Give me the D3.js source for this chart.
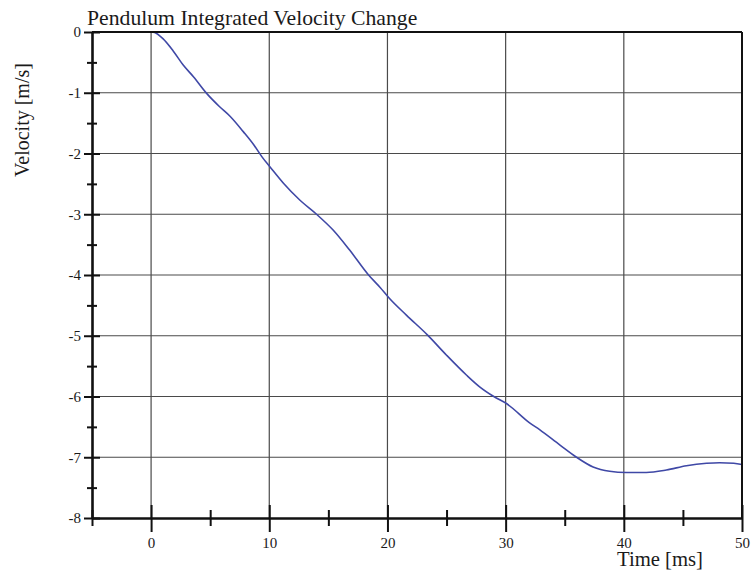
<!DOCTYPE html>
<html>
<head>
<meta charset="utf-8">
<script src="https://cdn.jsdelivr.net/npm/d3@7"></script>
<style>
  html, body { margin: 0; padding: 0; background: #fff; }
  svg { display: block; font-family: "Liberation Serif", "Times New Roman", serif; }
</style>
</head>
<body>
<svg id="chart" width="754" height="573"></svg>
<script>
// Integrated pendulum velocity over time
const timeMs = [0, 0.3, 1, 1.9, 2.7, 3.6, 4.7, 5.8, 6.7, 7.8, 8.7, 9.4, 10.1, 11.2, 12.6, 14.0,
  15.4, 16.8, 18.4, 19.4, 20.1, 21.6, 23.4, 25.0, 26.7, 27.8, 29.0, 30.1, 32.0, 32.9, 34.6,
  36.0, 37.4, 38.8, 40.2, 41.9, 43.6, 45.3, 47.0, 48.1, 49.3, 50];
const velocity = [0, -0.01, -0.11, -0.32, -0.54, -0.74, -1.01, -1.23, -1.39, -1.64, -1.86, -2.06,
  -2.23, -2.49, -2.77, -3.0, -3.26, -3.59, -4.0, -4.21, -4.37, -4.66, -4.99, -5.32, -5.65, -5.84,
  -6.0, -6.12, -6.43, -6.55, -6.8, -7.0, -7.16, -7.23, -7.25, -7.25, -7.21, -7.14, -7.1, -7.09,
  -7.1, -7.12];

const xMajorTicks = [0, 10, 20, 30, 40, 50];
const xMinorTicks = [-5, 5, 15, 25, 35, 45];
const yMajorTicks = [0, -1, -2, -3, -4, -5, -6, -7, -8];
const yMinorTicks = [-0.5, -1.5, -2.5, -3.5, -4.5, -5.5, -6.5, -7.5];
const xGridValues = [0, 10, 20, 30, 40];
const yGridValues = [-1, -2, -3, -4, -5, -6, -7];

const titleText = "Pendulum Integrated Velocity Change";
const xLabel = "Time [ms]";
const yLabel = "Velocity [m/s]";

const svg = d3.select("#chart");
const x = d3.scaleLinear().domain([-5, 50]).range([92, 742]);
const y = d3.scaleLinear().domain([-8, 0]).range([518, 32]);

// plain hyphen-minus for negative tick labels
const fmt = d => String(d);

// grid
const grid = svg.append("g").attr("stroke", "#4a4a4a").attr("stroke-width", 1.2);
grid.selectAll("line.v").data(xGridValues).join("line")
  .attr("class", "v")
  .attr("x1", d => x(d)).attr("x2", d => x(d))
  .attr("y1", y(0)).attr("y2", y(-8));
grid.selectAll("line.h").data(yGridValues).join("line")
  .attr("class", "h")
  .attr("x1", x(-5)).attr("x2", x(50))
  .attr("y1", d => y(d)).attr("y2", d => y(d));

// velocity curve
const line = d3.line().x((d, i) => x(timeMs[i])).y(d => y(d)).curve(d3.curveMonotoneX);
svg.append("path")
  .datum(velocity)
  .attr("d", line)
  .attr("fill", "none")
  .attr("stroke", "#3f48a6")
  .attr("stroke-width", 1.6);

// frame: top and right edges
svg.append("line").attr("x1", x(-5)).attr("x2", x(50)).attr("y1", y(0)).attr("y2", y(0))
  .attr("stroke", "#111").attr("stroke-width", 2.2);
svg.append("line").attr("x1", x(50)).attr("x2", x(50)).attr("y1", y(0)).attr("y2", y(-8))
  .attr("stroke", "#111").attr("stroke-width", 2);

function styleAxis(g) {
  g.select(".domain").attr("stroke", "#111").attr("stroke-width", 2.6);
  g.selectAll(".tick line").attr("stroke", "#111").attr("stroke-width", 2);
  g.selectAll(".tick text").attr("fill", "#1a1a1a")
    .style("font-family", '"Liberation Serif", "Times New Roman", serif')
    .style("font-size", "15px");
}

// y axis, major ticks crossing the axis line
const yAxisG = svg.append("g").attr("transform", `translate(${x(-5)},0)`)
  .call(d3.axisLeft(y).tickValues(yMajorTicks).tickFormat(fmt).tickSize(8).tickSizeOuter(0).tickPadding(3));
styleAxis(yAxisG);
yAxisG.selectAll(".tick line").attr("x1", -8).attr("x2", 8);
yAxisG.selectAll(".tick text").attr("x", -11);

const yMinorG = svg.append("g").attr("transform", `translate(${x(-5)},0)`)
  .call(d3.axisLeft(y).tickValues(yMinorTicks).tickFormat("").tickSize(5).tickSizeOuter(0));
yMinorG.select(".domain").remove();
yMinorG.selectAll(".tick line").attr("x1", -5).attr("x2", 5).attr("stroke", "#111").attr("stroke-width", 2);

// x axis
const xAxisG = svg.append("g").attr("transform", `translate(0,${y(-8)})`)
  .call(d3.axisBottom(x).tickValues(xMajorTicks).tickFormat(fmt).tickSize(14).tickSizeOuter(0));
styleAxis(xAxisG);
xAxisG.selectAll(".tick line").attr("y1", -13).attr("y2", 14);
xAxisG.selectAll(".tick text").attr("y", 19);

const xMinorG = svg.append("g").attr("transform", `translate(0,${y(-8)})`)
  .call(d3.axisBottom(x).tickValues(xMinorTicks).tickFormat("").tickSize(8).tickSizeOuter(0));
xMinorG.select(".domain").remove();
xMinorG.selectAll(".tick line").attr("y1", -8).attr("y2", 8).attr("stroke", "#111").attr("stroke-width", 2);

// labels
svg.append("text").attr("x", 87).attr("y", 25)
  .style("font-size", "21.7px").attr("fill", "#1a1a1a").text(titleText);
svg.append("text").attr("x", 660).attr("y", 566).attr("text-anchor", "middle")
  .style("font-size", "20.7px").attr("fill", "#1a1a1a").text(xLabel);
svg.append("text").attr("transform", "translate(29,120) rotate(-90)").attr("text-anchor", "middle")
  .style("font-size", "20px").attr("fill", "#1a1a1a").text(yLabel);
</script>
</body>
</html>
